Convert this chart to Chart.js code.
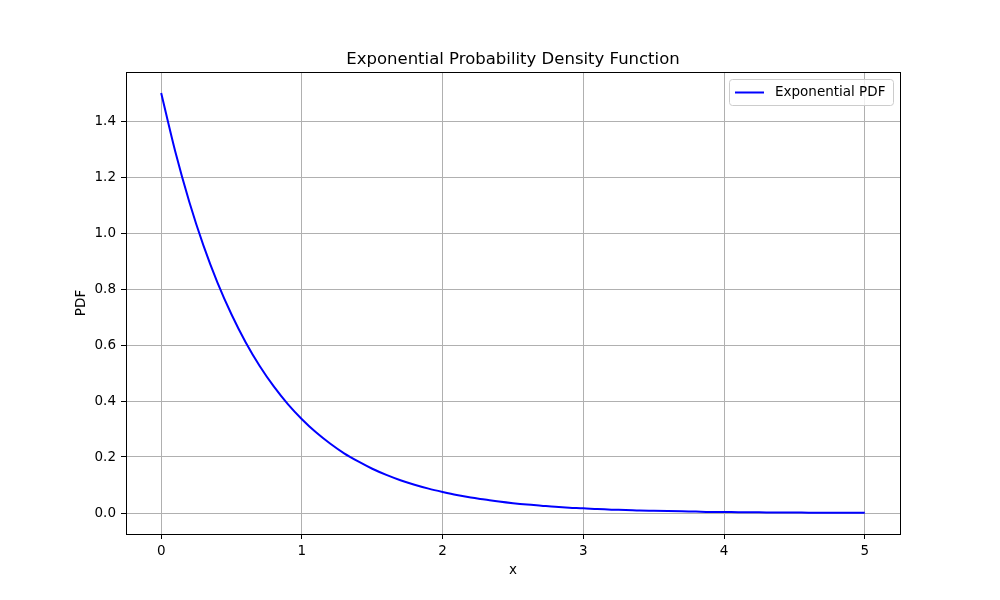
<!DOCTYPE html>
<html>
<head>
<meta charset="utf-8">
<script src="https://cdn.jsdelivr.net/npm/chart.js@4/dist/chart.umd.min.js"></script>
<style>
html,body{margin:0;padding:0;background:#fff;}
#wrap{width:1000px;height:600px;}
</style>
</head>
<body>
<div id="wrap"><canvas id="c" width="1000" height="600"></canvas></div>
<script>
const chartTitle = "Exponential Probability Density Function";
const xLabel = "x";
const yLabel = "PDF";
const seriesLabel = "Exponential PDF";
const xValues = [0,0.1,0.2,0.3,0.4,0.5,0.6,0.7,0.8,0.9,1.0,1.1,1.2,1.3,1.4,1.5,1.6,1.7,1.8,1.9,2.0,2.1,2.2,2.3,2.4,2.5,2.6,2.7,2.8,2.9,3.0,3.1,3.2,3.3,3.4,3.5,3.6,3.7,3.8,3.9,4.0,4.1,4.2,4.3,4.4,4.5,4.6,4.7,4.8,4.9,5.0];
const pdfValues = [1.500,1.291,1.111,0.956,0.823,0.709,0.610,0.525,0.452,0.389,0.335,0.288,0.248,0.213,0.184,0.158,0.136,0.117,0.101,0.087,0.075,0.064,0.055,0.048,0.041,0.035,0.030,0.026,0.022,0.019,0.017,0.014,0.012,0.011,0.009,0.008,0.007,0.006,0.005,0.004,0.004,0.003,0.003,0.002,0.002,0.002,0.001,0.001,0.001,0.001,0.001];
const xTicks = [0,1,2,3,4,5];
const xTickLabels = ["0","1","2","3","4","5"];
const yTicks = [0,0.2,0.4,0.6,0.8,1.0,1.2,1.4];
const yTickLabels = ["0.0","0.2","0.4","0.6","0.8","1.0","1.2","1.4"];

const FONT = "'DejaVu Sans', sans-serif";

const decor = {
  id: 'decor',
  afterDraw(chart) {
    const ctx = chart.ctx;
    const a = chart.chartArea;
    ctx.save();
    ctx.strokeStyle = '#000';
    ctx.lineWidth = 1;
    ctx.strokeRect(Math.round(a.left) + 0.5, Math.round(a.top) + 0.5, Math.round(a.right - a.left), Math.round(a.bottom - a.top));
    ctx.fillStyle = '#000';
    ctx.font = "16.5px " + FONT;
    ctx.textAlign = 'center';
    ctx.textBaseline = 'alphabetic';
    ctx.fillText(chartTitle, (a.left + a.right) / 2, 64);
    ctx.font = "13.5px " + FONT;
    ctx.fillText(xLabel, (a.left + a.right) / 2, 574);
    ctx.save();
    ctx.translate(85, (a.top + a.bottom) / 2);
    ctx.rotate(-Math.PI / 2);
    ctx.fillText(yLabel, 0, 0);
    ctx.restore();
    const ds = chart.data.datasets[0];
    const bx = 729.5, by = 79.5, bw = 164, bh = 26, r = 3;
    ctx.beginPath();
    ctx.moveTo(bx + r, by);
    ctx.lineTo(bx + bw - r, by);
    ctx.quadraticCurveTo(bx + bw, by, bx + bw, by + r);
    ctx.lineTo(bx + bw, by + bh - r);
    ctx.quadraticCurveTo(bx + bw, by + bh, bx + bw - r, by + bh);
    ctx.lineTo(bx + r, by + bh);
    ctx.quadraticCurveTo(bx, by + bh, bx, by + bh - r);
    ctx.lineTo(bx, by + r);
    ctx.quadraticCurveTo(bx, by, bx + r, by);
    ctx.closePath();
    ctx.fillStyle = 'rgba(255,255,255,0.8)';
    ctx.fill();
    ctx.strokeStyle = '#cccccc';
    ctx.lineWidth = 1;
    ctx.stroke();
    ctx.beginPath();
    ctx.moveTo(735, 92.5);
    ctx.lineTo(764, 92.5);
    ctx.strokeStyle = ds.borderColor;
    ctx.lineWidth = 2;
    ctx.stroke();
    ctx.fillStyle = '#000';
    ctx.font = "13.5px " + FONT;
    ctx.textAlign = 'left';
    ctx.textBaseline = 'middle';
    ctx.fillText(ds.label, 775, 92);
    ctx.restore();
  }
};

new Chart(document.getElementById('c'), {
  type: 'line',
  data: {
    datasets: [{
      label: seriesLabel,
      data: xValues.map((x, i) => ({x: x, y: pdfValues[i]})),
      borderColor: '#0000ff',
      borderWidth: 2,
      pointRadius: 0,
      fill: false,
      cubicInterpolationMode: 'monotone'
    }]
  },
  options: {
    responsive: false,
    animation: false,
    devicePixelRatio: 1,
    layout: {padding: {top: 72, right: 100, left: 0, bottom: 0}},
    plugins: {legend: {display: false}, title: {display: false}, tooltip: {enabled: false}},
    scales: {
      x: {
        type: 'linear',
        min: -0.25,
        max: 5.25,
        afterBuildTicks(scale) { scale.ticks = xTicks.map(v => ({value: v})); },
        afterFit(scale) { scale.height = 66; },
        grid: {color: '#b0b0b0', lineWidth: 1, tickColor: '#000', tickLength: 5, drawTicks: true},
        border: {display: false},
        ticks: {
          color: '#000',
          font: {family: FONT, size: 13.5},
          padding: 4,
          maxRotation: 0,
          callback(value) { const i = xTicks.indexOf(value); return i >= 0 ? xTickLabels[i] : ''; }
        }
      },
      y: {
        type: 'linear',
        min: -0.075,
        max: 1.575,
        afterBuildTicks(scale) { scale.ticks = yTicks.map(v => ({value: v})); },
        afterFit(scale) { scale.width = 126; },
        grid: {color: '#b0b0b0', lineWidth: 1, tickColor: '#000', tickLength: 5, drawTicks: true},
        border: {display: false},
        ticks: {
          color: '#000',
          font: {family: FONT, size: 13.5},
          padding: 5,
          callback(value) {
            const i = yTicks.findIndex(v => Math.abs(v - value) < 1e-9);
            return i >= 0 ? yTickLabels[i] : '';
          }
        }
      }
    }
  },
  plugins: [decor]
});
</script>
</body>
</html>
